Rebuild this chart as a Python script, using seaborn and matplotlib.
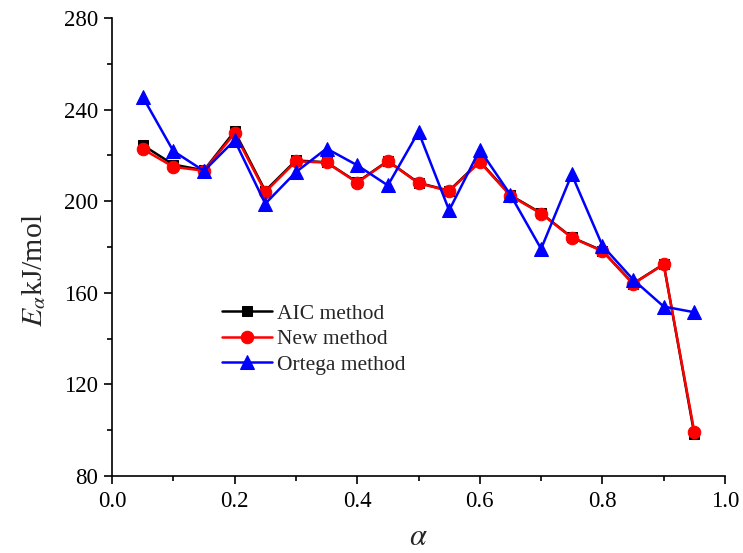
import numpy as np
import pandas as pd
import matplotlib
matplotlib.use("Agg")
import matplotlib.pyplot as plt
import seaborn as sns
from matplotlib.ticker import MultipleLocator

alpha = [0.05, 0.10, 0.15, 0.20, 0.25, 0.30, 0.35, 0.40, 0.45, 0.50,
         0.55, 0.60, 0.65, 0.70, 0.75, 0.80, 0.85, 0.90, 0.95]
aic = [224.5, 216.0, 213.5, 230.5, 204.5, 217.8, 217.0, 208.3, 217.6, 208.0,
       204.6, 217.4, 202.6, 194.8, 184.2, 178.4, 164.0, 172.5, 98.2]
new = [222.8, 215.0, 213.3, 229.6, 204.0, 217.4, 216.9, 208.1, 217.4, 207.9,
       204.4, 217.1, 202.4, 194.6, 184.1, 178.2, 163.9, 172.4, 99.2]
ortega = [245.6, 221.9, 213.2, 226.6, 198.9, 212.7, 223.0, 215.7, 206.9, 230.3,
          196.0, 222.5, 202.8, 179.2, 211.7, 180.6, 165.8, 154.0, 151.5]
series_names = ["AIC method", "New method", "Ortega method"]

sns.set_theme(style="ticks")
plt.rcParams['font.family'] = ['Liberation Serif', 'DejaVu Serif']
plt.rcParams['mathtext.fontset'] = 'stix'

fig = plt.figure(figsize=(7.43, 5.53), dpi=100)
ax = fig.add_axes([112/743, 77/553, 613/743, 458/553])

styles = [("black", "s", 7), ("red", "o", 9), ("blue", "^", 10)]
for name, vals, (c, m, ms) in zip(series_names, [aic, new, ortega], styles):
    df = pd.DataFrame({"alpha": alpha, "E": vals})
    sns.lineplot(data=df, x="alpha", y="E", ax=ax, color=c, marker=m,
                 markersize=ms, markeredgecolor=c, linewidth=1.8, label=name)

ax.set_xlim(0, 1.0)
ax.set_ylim(80, 280)
ax.xaxis.set_major_locator(MultipleLocator(0.2))
ax.xaxis.set_minor_locator(MultipleLocator(0.1))
ax.yaxis.set_major_locator(MultipleLocator(40))
ax.yaxis.set_minor_locator(MultipleLocator(20))
ax.set_xticklabels([f"{v:.1f}" for v in ax.get_xticks()])
ax.tick_params(which='major', direction='out', length=6, width=1.2, labelsize=16.5,
               color='black', labelcolor='black')
ax.tick_params(which='minor', direction='out', length=3.5, width=1.2, color='black')
ax.tick_params(axis='x', which='major', pad=5)
ax.tick_params(axis='y', which='major', pad=4)
for s in ['top', 'right']:
    ax.spines[s].set_visible(False)
for s in ['left', 'bottom']:
    ax.spines[s].set_linewidth(1.2)
    ax.spines[s].set_color('black')

ax.set_xlabel(r"$\alpha$", fontsize=22, labelpad=8)
ax.set_ylabel(r"$E_\alpha$kJ/mol", fontsize=21.5)
ax.yaxis.set_label_coords(-0.105, 0.45)

leg = ax.legend(loc='center left', bbox_to_anchor=(0.179, 0.299), frameon=False,
                fontsize=15.5, handlelength=2.32, handletextpad=0.25, labelspacing=0.25,
                borderaxespad=0, borderpad=0)

fig.savefig("out.png", dpi=100)
